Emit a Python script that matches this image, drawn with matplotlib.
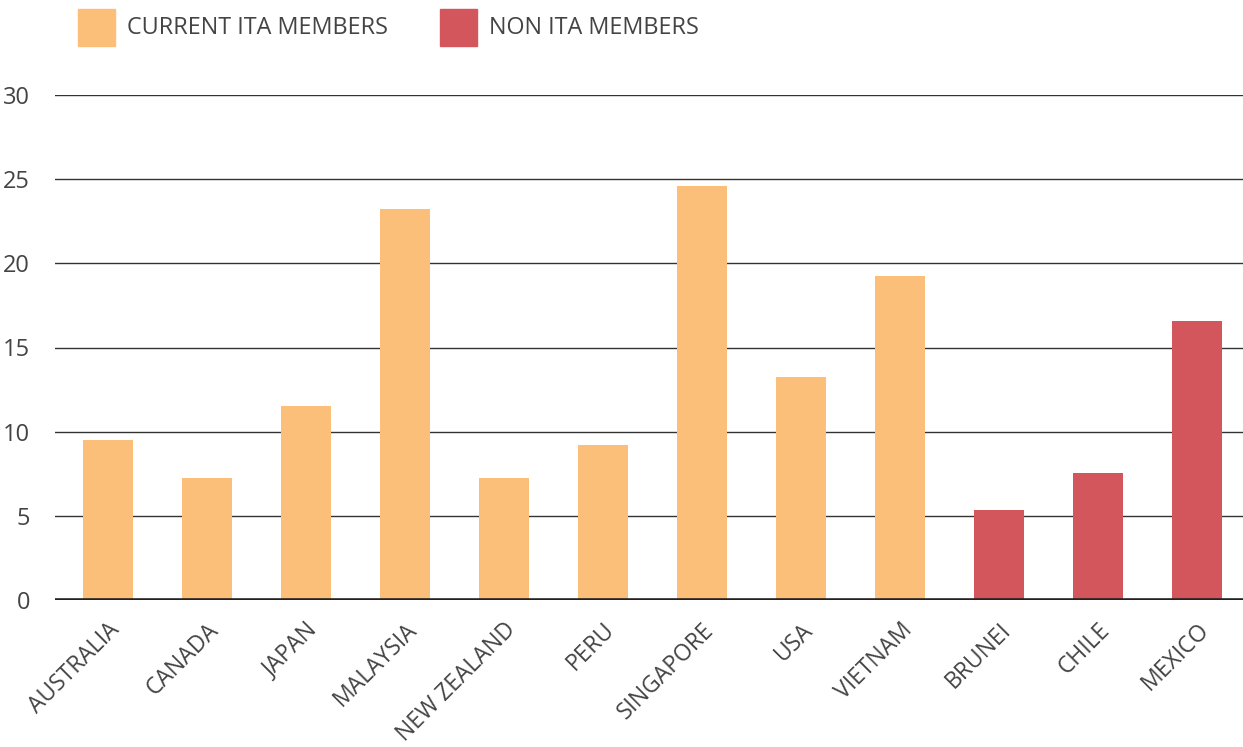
import matplotlib.pyplot as plt
from matplotlib.patches import Rectangle

# data
countries = ['AUSTRALIA', 'CANADA', 'JAPAN', 'MALAYSIA', 'NEW ZEALAND', 'PERU',
             'SINGAPORE', 'USA', 'VIETNAM', 'BRUNEI', 'CHILE', 'MEXICO']
values = [9.5, 7.25, 11.5, 23.2, 7.25, 9.2, 24.6, 13.25, 19.25, 5.35, 7.55, 16.6]
member = [True] * 9 + [False] * 3
yticks = [0, 5, 10, 15, 20, 25, 30]
legend_labels = ['CURRENT ITA MEMBERS', 'NON ITA MEMBERS']

orange = '#FBBF7A'
red = '#D2565C'
text_col = '#444444'

plt.rcParams['font.family'] = ['Open Sans', 'DejaVu Sans']

W, H = 1243, 747
fig = plt.figure(figsize=(W / 100, H / 100), dpi=100)
ax = fig.add_axes([55 / W, 147 / H, 1188 / W, 505 / H])

colors = [orange if m else red for m in member]
x = range(len(countries))
ax.bar(x, values, width=0.505, color=colors, zorder=3)

ax.set_xlim(-0.535, len(countries) - 0.535)
ax.set_ylim(0, 30)
ax.set_yticks(yticks)
ax.yaxis.grid(True, color='#333333', linewidth=1, zorder=0)
ax.axhline(0, color='#222222', linewidth=2.6, zorder=4)

for s in ax.spines.values():
    s.set_visible(False)
ax.tick_params(axis='y', length=0, labelsize=17, labelcolor=text_col, pad=18)
ax.set_xticks(list(x))
ax.set_xticklabels(countries, rotation=45, ha='right', rotation_mode='anchor')
ax.tick_params(axis='x', length=0, labelsize=16.5, labelcolor=text_col, pad=13)

# legend drawn by hand: squares + labels
for (sx, tx), col, lab in zip([(78, 127), (440, 489)], [orange, red], legend_labels):
    fig.add_artist(Rectangle((sx / W, 1 - 46 / H), 37 / W, 37 / H,
                             transform=fig.transFigure, color=col))
    fig.text(tx / W, 1 - 27.5 / H, lab, fontsize=16.8, color=text_col,
             va='center', ha='left')

fig.savefig('out.png', dpi=100)
